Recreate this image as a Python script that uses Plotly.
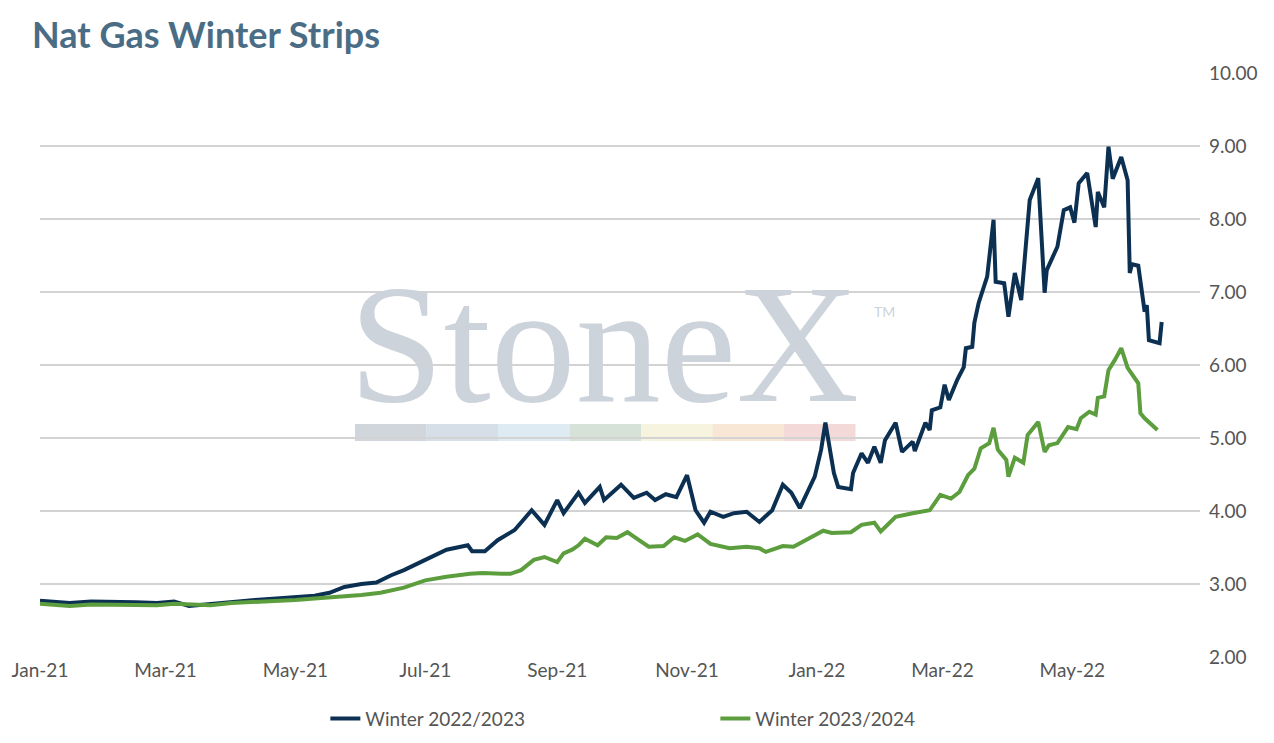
import plotly.graph_objects as go

# Winter 2022/2023 strip
dark_dates = [
    "2021-01-01", "2021-01-15", "2021-01-25", "2021-02-05", "2021-02-15", "2021-02-25",
    "2021-03-05", "2021-03-12", "2021-03-22", "2021-04-01", "2021-04-12", "2021-04-22",
    "2021-05-01", "2021-05-10", "2021-05-17", "2021-05-24", "2021-06-01", "2021-06-08",
    "2021-06-15", "2021-06-21", "2021-07-01", "2021-07-11", "2021-07-21", "2021-07-23",
    "2021-07-29", "2021-08-04", "2021-08-12", "2021-08-15", "2021-08-20", "2021-08-26",
    "2021-09-01", "2021-09-04", "2021-09-11", "2021-09-14", "2021-09-21", "2021-09-23",
    "2021-10-01", "2021-10-07", "2021-10-13", "2021-10-17", "2021-10-22", "2021-10-27",
    "2021-11-01", "2021-11-05", "2021-11-09", "2021-11-12", "2021-11-18", "2021-11-23",
    "2021-11-29", "2021-12-05", "2021-12-11", "2021-12-16", "2021-12-20", "2021-12-24",
    "2021-12-31", "2022-01-03", "2022-01-05", "2022-01-09", "2022-01-11", "2022-01-17",
    "2022-01-18", "2022-01-22", "2022-01-25", "2022-01-28", "2022-01-31", "2022-02-02",
    "2022-02-07", "2022-02-10", "2022-02-15", "2022-02-16", "2022-02-21", "2022-02-23",
    "2022-02-24", "2022-02-28", "2022-03-02", "2022-03-04", "2022-03-08", "2022-03-11",
    "2022-03-12", "2022-03-15", "2022-03-16", "2022-03-18", "2022-03-22", "2022-03-25",
    "2022-03-26", "2022-03-30", "2022-04-01", "2022-04-04", "2022-04-07", "2022-04-11",
    "2022-04-15", "2022-04-18", "2022-04-19", "2022-04-24", "2022-04-27", "2022-04-30",
    "2022-05-02", "2022-05-04", "2022-05-08", "2022-05-12", "2022-05-13", "2022-05-16",
    "2022-05-18", "2022-05-20", "2022-05-24", "2022-05-27", "2022-05-28", "2022-05-29",
    "2022-06-01", "2022-06-04", "2022-06-05", "2022-06-06", "2022-06-11", "2022-06-12",
]
dark_values = [
    2.77, 2.74, 2.76, 2.76, 2.75, 2.74,
    2.76, 2.70, 2.73, 2.76, 2.78, 2.80,
    2.82, 2.84, 2.88, 2.96, 3.00, 3.02,
    3.12, 3.19, 3.33, 3.47, 3.53, 3.45,
    3.45, 3.60, 3.74, 3.84, 4.01, 3.81,
    4.15, 3.97, 4.25, 4.11, 4.33, 4.15,
    4.36, 4.18, 4.25, 4.15, 4.23, 4.19,
    4.49, 4.01, 3.84, 3.99, 3.92, 3.97,
    3.99, 3.85, 4.01, 4.36, 4.25, 4.04,
    4.47, 4.84, 5.21, 4.52, 4.33, 4.30,
    4.52, 4.79, 4.66, 4.88, 4.66, 4.97,
    5.21, 4.81, 4.95, 4.82, 5.21, 5.11,
    5.38, 5.42, 5.73, 5.52, 5.80, 5.97,
    6.23, 6.25, 6.58, 6.85, 7.21, 7.99,
    7.14, 7.12, 6.66, 7.26, 6.89, 8.26,
    8.56, 6.99, 7.30, 7.62, 8.12, 8.16,
    7.95, 8.49, 8.63, 7.89, 8.37, 8.16,
    8.99, 8.55, 8.85, 8.53, 7.26, 7.38,
    7.36, 6.73, 6.82, 6.34, 6.30, 6.59,
]

# Winter 2023/2024 strip
green_dates = [
    "2021-01-01", "2021-01-15", "2021-01-25", "2021-02-05", "2021-02-15", "2021-02-25",
    "2021-03-05", "2021-03-12", "2021-03-22", "2021-04-01", "2021-04-12", "2021-04-22",
    "2021-05-01", "2021-05-10", "2021-05-20", "2021-06-01", "2021-06-10", "2021-06-21",
    "2021-07-01", "2021-07-11", "2021-07-22", "2021-07-28", "2021-08-06", "2021-08-10",
    "2021-08-15", "2021-08-21", "2021-08-26", "2021-09-01", "2021-09-04", "2021-09-08",
    "2021-09-11", "2021-09-14", "2021-09-20", "2021-09-24", "2021-09-29", "2021-10-04",
    "2021-10-06", "2021-10-14", "2021-10-21", "2021-10-26", "2021-10-31", "2021-11-06",
    "2021-11-12", "2021-11-21", "2021-11-29", "2021-12-05", "2021-12-08", "2021-12-16",
    "2021-12-21", "2021-12-29", "2022-01-04", "2022-01-08", "2022-01-17", "2022-01-22",
    "2022-01-28", "2022-01-31", "2022-02-07", "2022-02-15", "2022-02-23", "2022-02-28",
    "2022-03-05", "2022-03-09", "2022-03-13", "2022-03-16", "2022-03-19", "2022-03-23",
    "2022-03-25", "2022-03-27", "2022-03-31", "2022-04-01", "2022-04-04", "2022-04-08",
    "2022-04-10", "2022-04-15", "2022-04-18", "2022-04-20", "2022-04-24", "2022-04-29",
    "2022-05-03", "2022-05-05", "2022-05-09", "2022-05-12", "2022-05-13", "2022-05-16",
    "2022-05-18", "2022-05-21", "2022-05-24", "2022-05-27", "2022-06-01", "2022-06-02",
    "2022-06-04", "2022-06-10",
]
green_values = [
    2.73, 2.70, 2.72, 2.72, 2.72, 2.71,
    2.73, 2.72, 2.71, 2.74, 2.75, 2.76,
    2.78, 2.80, 2.82, 2.85, 2.88, 2.95,
    3.05, 3.10, 3.14, 3.15, 3.14, 3.14,
    3.19, 3.33, 3.37, 3.30, 3.42, 3.47,
    3.53, 3.62, 3.53, 3.64, 3.63, 3.71,
    3.67, 3.51, 3.52, 3.64, 3.59, 3.68,
    3.55, 3.49, 3.51, 3.49, 3.44, 3.52,
    3.51, 3.64, 3.73, 3.70, 3.71, 3.81,
    3.84, 3.72, 3.92, 3.97, 4.01, 4.22,
    4.17, 4.26, 4.49, 4.58, 4.86, 4.93,
    5.14, 4.84, 4.70, 4.47, 4.73, 4.66,
    5.04, 5.22, 4.81, 4.90, 4.93, 5.15,
    5.12, 5.27, 5.36, 5.32, 5.55, 5.57,
    5.93, 6.07, 6.23, 5.96, 5.75, 5.34,
    5.27, 5.11,
]

y_ticks = [2, 3, 4, 5, 6, 7, 8, 9, 10]
band_colors = ["#c9cfd7", "#cfd9e4", "#d9e7f1", "#cfdcd1", "#f5f1d8", "#f6e3cc", "#f2d2d2"]

fig = go.Figure()
fig.add_trace(go.Scatter(x=dark_dates, y=dark_values, mode="lines", name="Winter 2022/2023",
                         line=dict(color="#0c3052", width=4)))
fig.add_trace(go.Scatter(x=green_dates, y=green_values, mode="lines", name="Winter 2023/2024",
                         line=dict(color="#5c9e3e", width=4)))

# watermark
fig.add_annotation(text="StoneX", xref="paper", yref="paper", x=(596 - 32) / 1160,
                   y=(657 - 440) / 584, xanchor="center", yanchor="bottom", showarrow=False,
                   font=dict(family="Liberation Serif", size=170, color="#cdd3db"))
fig.add_annotation(text="TM", xref="paper", yref="paper", x=(864 - 32) / 1160,
                   y=(657 - 311) / 584, xanchor="left", showarrow=False,
                   font=dict(family="Lato", size=14, color="#cdd3db"))
x0 = 347
for c in band_colors:
    fig.add_shape(type="rect", xref="paper", yref="paper",
                  x0=(x0 - 32) / 1160, x1=(x0 + 71.5 - 32) / 1160,
                  y0=(657 - 441) / 584, y1=(657 - 424) / 584,
                  fillcolor=c, line_width=0, layer="below", opacity=0.85)
    x0 += 71.5

fig.update_layout(
    width=1274, height=743,
    title=dict(text="<b>Nat Gas Winter Strips</b>", x=24 / 1274, y=1 - 27 / 743,
               xanchor="left", yanchor="middle",
               font=dict(family="Lato", size=36, color="#4a6d85")),
    font=dict(family="Lato", size=19, color="#555555"),
    plot_bgcolor="white", paper_bgcolor="white",
    margin=dict(l=32, r=82, t=65, b=94, autoexpand=False),
    xaxis=dict(range=["2021-01-01", "2022-06-30"], dtick="M2", tickformat="%b-%y",
               tick0="2021-01-01", showgrid=False, showline=False, ticks="", zeroline=False,
               automargin=False),
    yaxis=dict(side="right", range=[2, 10], tickvals=y_ticks, tickformat=".2f",
               gridcolor="#d3d3d3", gridwidth=1.5, zeroline=False, ticks="",
               ticklabelstandoff=8, automargin=False),
    legend=dict(orientation="h", x=0.246, xanchor="left", y=-0.073, yanchor="top",
                entrywidth=345, font=dict(size=19, color="#555555")),
)

fig.write_html("out.html")
